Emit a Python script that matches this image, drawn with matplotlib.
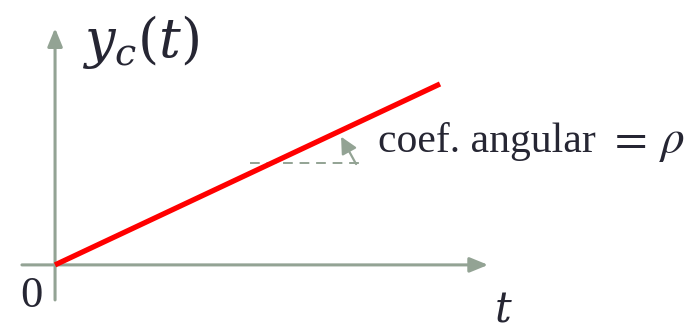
import matplotlib
matplotlib.use("Agg")
import matplotlib.pyplot as plt

# Ramp response y_c(t) = rho * t
t_span = [0.0, 10.0]
rho = 0.47
slope_marker_y = 2.65          # height of the horizontal reference segment
slope_marker_x = [5.06, 7.92]
label_words = "coef. angular"
label_math = [r"$=$", r"$\rho$"]

axis_color = "#93a394"
ramp_color = "#ff0000"
text_color = "#262633"

plt.rcParams["mathtext.fontset"] = "stix"
plt.rcParams["font.family"] = ["Liberation Serif", "DejaVu Serif"]

fig = plt.figure(figsize=(6.91, 3.30), dpi=100)
ax = fig.add_axes([0, 0, 1, 1])
ax.set_xlim(-1.43, 16.52)
ax.set_ylim(-1.69, 6.88)
ax.set_aspect("equal")
ax.axis("off")

# Coordinate axes with arrowheads
head = "-|>,head_length=1.1,head_width=0.45"
ax.annotate("", xy=(11.25, 0), xytext=(-0.86, 0),
            arrowprops=dict(arrowstyle=head, mutation_scale=10, lw=2.2,
                            color=axis_color, shrinkA=0, shrinkB=0))
ax.annotate("", xy=(0, 6.15), xytext=(0, -0.91),
            arrowprops=dict(arrowstyle=head, mutation_scale=10, lw=2.2,
                            color=axis_color, shrinkA=0, shrinkB=0))

# Ramp
ax.plot(t_span, [rho * t for t in t_span], color=ramp_color, lw=3.8,
        solid_capstyle="butt", zorder=3)

# Horizontal reference and slope indicator
ax.plot(slope_marker_x, [slope_marker_y] * 2, color=axis_color, lw=1.4,
        dashes=(5, 3.5), zorder=2)
ax.annotate("", xy=(7.43, 3.33), xytext=(7.82, 2.62),
            arrowprops=dict(arrowstyle="-|>,head_length=1.0,head_width=0.5",
                            mutation_scale=10, lw=1.6, color=axis_color,
                            shrinkA=0, shrinkB=0))

# Labels
ax.text(8.39, 2.94, label_words, fontsize=30, color=text_color,
        ha="left", va="baseline")
ax.text(14.86, 2.94, label_math[0], fontsize=34, color=text_color,
        ha="center", va="baseline")
ax.text(16.03, 2.94, label_math[1], fontsize=34, color=text_color,
        ha="center", va="baseline")
ax.text(0.70, 5.79, r"$y_c(t)$", fontsize=39, color=text_color,
        ha="left", va="center", math_fontfamily="dejavuserif")
ax.text(-0.62, -0.82, "0", fontsize=32, color=text_color,
        ha="center", va="center")
ax.text(11.64, -1.20, r"$t$", fontsize=30, color=text_color,
        ha="center", va="center", math_fontfamily="dejavuserif")

fig.savefig("out.png", dpi=100)
